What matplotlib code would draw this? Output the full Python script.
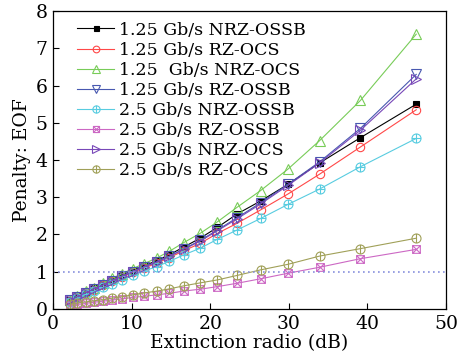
import matplotlib
matplotlib.use("Agg")
import matplotlib.pyplot as plt
from matplotlib.path import Path
import numpy as np

x = [2.2, 3.1, 4.2, 5.2, 6.4, 7.5, 8.8, 10.1, 11.6, 13.2, 14.8, 16.6, 18.7, 20.9, 23.4, 26.4, 29.9, 33.9, 39.1, 46.2]

nrz_ossb_125 = [0.24, 0.34, 0.45, 0.55, 0.67, 0.78, 0.91, 1.03, 1.16, 1.30, 1.46, 1.66, 1.90, 2.19, 2.55, 2.90, 3.35, 3.92, 4.60, 5.50]
rz_ocs_125 = [0.22, 0.32, 0.42, 0.52, 0.63, 0.74, 0.86, 0.98, 1.10, 1.23, 1.38, 1.56, 1.76, 2.03, 2.30, 2.66, 3.09, 3.62, 4.35, 5.35]
nrz_ocs_125 = [0.25, 0.35, 0.47, 0.57, 0.70, 0.82, 0.95, 1.08, 1.22, 1.37, 1.55, 1.78, 2.03, 2.34, 2.73, 3.18, 3.76, 4.52, 5.60, 7.38]
rz_ossb_125 = [0.23, 0.33, 0.44, 0.54, 0.65, 0.76, 0.88, 1.00, 1.13, 1.27, 1.42, 1.61, 1.84, 2.12, 2.45, 2.85, 3.35, 3.95, 4.85, 6.30]
nrz_ossb_25 = [0.20, 0.29, 0.39, 0.48, 0.58, 0.68, 0.79, 0.90, 1.02, 1.14, 1.28, 1.45, 1.63, 1.87, 2.12, 2.43, 2.81, 3.22, 3.82, 4.58]
rz_ossb_25 = [0.10, 0.12, 0.15, 0.18, 0.21, 0.24, 0.27, 0.31, 0.34, 0.38, 0.42, 0.48, 0.53, 0.60, 0.69, 0.81, 0.96, 1.12, 1.35, 1.60]
nrz_ocs_25 = [0.23, 0.33, 0.44, 0.54, 0.65, 0.76, 0.88, 1.00, 1.13, 1.26, 1.41, 1.60, 1.82, 2.10, 2.42, 2.82, 3.32, 3.92, 4.80, 6.18]
rz_ocs_25 = [0.13, 0.16, 0.19, 0.22, 0.25, 0.29, 0.33, 0.38, 0.43, 0.48, 0.54, 0.62, 0.70, 0.78, 0.90, 1.05, 1.20, 1.42, 1.62, 1.90]

labels = ["1.25 Gb/s NRZ-OSSB", "1.25 Gb/s RZ-OCS", "1.25  Gb/s NRZ-OCS", "1.25 Gb/s RZ-OSSB",
          "2.5 Gb/s NRZ-OSSB", "2.5 Gb/s RZ-OSSB", "2.5 Gb/s NRZ-OCS", "2.5 Gb/s RZ-OCS"]

M, L = Path.MOVETO, Path.LINETO
circ = Path.unit_circle()
oplus = Path.make_compound_path(circ, Path([(-1, 0), (1, 0), (0, -1), (0, 1)], [M, L, M, L]))
ophi = Path.make_compound_path(circ, Path([(0, -1.0), (0, 1.0)], [M, L]))
boxx = Path([(-1, -1), (1, -1), (1, 1), (-1, 1), (-1, -1), (1, 1), (-1, 1), (1, -1)],
            [M, L, L, L, L, L, M, L])

series = [nrz_ossb_125, rz_ocs_125, nrz_ocs_125, rz_ossb_125, nrz_ossb_25, rz_ossb_25, nrz_ocs_25, rz_ocs_25]
colors = ["#000000", "#ff4848", "#78cc58", "#4858b0", "#58cce0", "#cc68c4", "#7848b8", "#a0a058"]
markers = ["s", "o", "^", "v", oplus, boxx, ">", ophi]
filled = [True, False, False, False, False, False, False, False]
sizes = [4.5, 6, 6.5, 6.5, 6.5, 5.5, 6.5, 6.5]

plt.rcParams['font.family'] = ['DejaVu Serif']
plt.rcParams['mathtext.fontset'] = 'dejavuserif'

fig = plt.figure(figsize=(4.58, 3.58), dpi=100)
ax = fig.add_axes([0.116, 0.137, 0.858, 0.832])

for ys, c, m, f, s, lab in zip(series, colors, markers, filled, sizes, labels):
    ax.plot(x, ys, color=c, lw=0.8, marker=m, markersize=s,
            markerfacecolor=(c if f else "none"), markeredgecolor=c, markeredgewidth=0.8,
            label=lab)

ax.axhline(1, color="#8890dd", lw=1.2, ls=(0, (1, 2)))

ax.set_xlim(0, 50)
ax.set_ylim(0, 8)
ax.set_xticks([0, 10, 20, 30, 40, 50])
ax.set_yticks(range(0, 9))
ax.tick_params(direction="in", labelsize=13.5, length=4, width=0.8, top=False, right=False, pad=4)
ax.set_xlabel("Extinction radio (dB)", fontsize=13.5, labelpad=1)
ax.set_ylabel("Penalty: EOF", fontsize=13.5, labelpad=3)
for sp in ax.spines.values():
    sp.set_linewidth(0.9)

ax.legend(loc="upper left", frameon=False, fontsize=12.5, handlelength=2.1, handletextpad=0.3,
          labelspacing=0.18, borderaxespad=0.2, bbox_to_anchor=(0.035, 1.0), markerscale=0.8)

fig.savefig("out.png", dpi=100)
